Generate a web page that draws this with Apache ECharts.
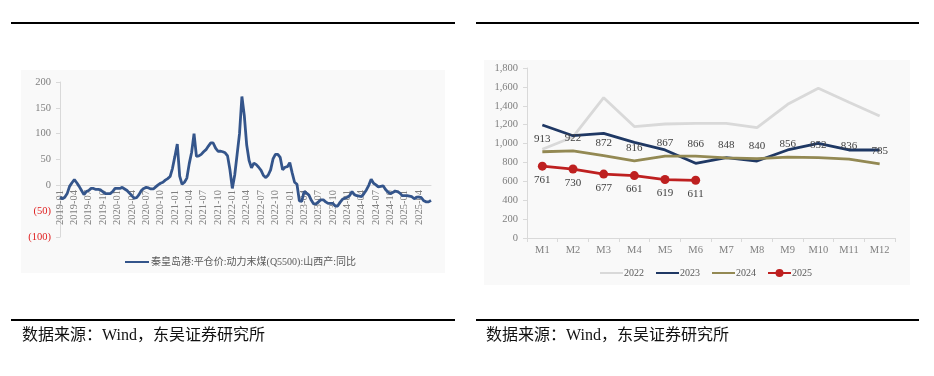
<!DOCTYPE html>
<html>
<head>
<meta charset="utf-8">
<script src="https://cdn.jsdelivr.net/npm/echarts@6/dist/echarts.min.js"></script>
<style>
  html, body { margin: 0; padding: 0; background: #fff; }
  #main { width: 934px; height: 376px; }
</style>
</head>
<body>
<div id="main"></div>
<script>
// 左图：秦皇岛港平仓价同比（半月取点，2019-01 起）
const leftName = '秦皇岛港:平仓价:动力末煤(Q5500):山西产:同比';
const leftValues = [
  -23, -26, -23, -16, -2, 5, 11, 5, -2, -10,
  -18, -12, -10, -6, -6, -8, -8, -9, -13, -16,
  -16, -16, -12, -6, -6, -6, -4, -7, -10, -15,
  -20, -25, -24, -18, -10, -6, -4, -5, -7, -7,
  -3, 1, 4, 6, 10, 13, 17, 33, 56, 80,
  18, 2, 6, 14, 42, 64, 100, 56, 57, 60,
  65, 69, 76, 82, 82, 72, 66, 66, 65, 63,
  57, 30, -6, 20, 60, 100, 172, 135, 78, 48,
  34, 43, 40, 35, 29, 19, 15, 20, 30, 51,
  60, 60, 54, 30, 35, 36, 44, 24, 6, 2,
  -30, -31, -12, -15, -19, -29, -36, -36, -32, -28,
  -28, -32, -35, -35, -35, -40, -40, -33, -27, -25,
  -23, -20, -12, -18, -20, -21, -22, -16, -9, 0,
  12, 4, 1, -3, -2, -1, -8, -13, -16, -14,
  -11, -12, -15, -20, -20, -20, -21, -22, -26, -23,
  -23, -24, -30, -32, -32, -29
];

// 右图：月度数据
const months = ['M1', 'M2', 'M3', 'M4', 'M5', 'M6', 'M7', 'M8', 'M9', 'M10', 'M11', 'M12'];
const y2022 = [940, 1070, 1486, 1180, 1207, 1214, 1214, 1168, 1415, 1585, 1437, 1292];
const y2023 = [1196, 1083, 1108, 1013, 932, 791, 850, 815, 932, 1003, 932, 932];
const y2024 = [913, 922, 872, 816, 867, 866, 848, 840, 856, 852, 836, 785];
const y2025 = [761, 730, 677, 661, 619, 611];

const sourceText = '数据来源：Wind，东吴证券研究所';

// 半月日期类目
let dates = [];
for (let i = 0; i < leftValues.length; i++) {
  let yr = 2019 + Math.floor(i / 24);
  let mo = Math.floor((i % 24) / 2) + 1;
  dates.push(yr + '-' + (mo < 10 ? '0' + mo : mo) + (i % 2 ? '-16' : '-01'));
}

const serif = '"Liberation Serif", "Noto Sans CJK SC", serif';
const gray = '#7f7f7f';
const axisGray = '#d9d9d9';
const hideDot = { opacity: 0 };

const chart = echarts.init(document.getElementById('main'));

const option = {
  backgroundColor: '#fff',
  animation: false,
  textStyle: { fontFamily: serif },
  graphic: [
    { type: 'rect', z: -1, shape: { x: 21, y: 70, width: 424, height: 203 }, style: { fill: '#f9f9f9' } },
    { type: 'rect', z: -1, shape: { x: 484, y: 60, width: 426, height: 225 }, style: { fill: '#f9f9f9' } },
    { type: 'rect', shape: { x: 11, y: 22, width: 444, height: 2 }, style: { fill: '#000' } },
    { type: 'rect', shape: { x: 476, y: 22, width: 443, height: 2 }, style: { fill: '#000' } },
    { type: 'rect', shape: { x: 11, y: 319, width: 444, height: 2 }, style: { fill: '#000' } },
    { type: 'rect', shape: { x: 476, y: 319, width: 443, height: 2 }, style: { fill: '#000' } },
    { type: 'text', left: 22, top: 328, style: { text: sourceText, fontSize: 16, fill: '#111', fontFamily: serif } },
    { type: 'text', left: 486, top: 328, style: { text: sourceText, fontSize: 16, fill: '#111', fontFamily: serif } }
  ],
  legend: [
    {
      data: [{ name: leftName, itemStyle: hideDot }],
      left: 119, top: 252,
      itemWidth: 24, itemHeight: 10, itemGap: 4,
      textStyle: { fontSize: 10, color: '#595959', fontFamily: serif, padding: [0, 0, 0, -3] }
    },
    {
      data: [
        { name: '2022', itemStyle: hideDot },
        { name: '2023', itemStyle: hideDot },
        { name: '2024', itemStyle: hideDot },
        { name: '2025' }
      ],
      left: 594, top: 263,
      itemWidth: 23, itemHeight: 10, itemGap: 11,
      textStyle: { fontSize: 10, color: '#595959', fontFamily: serif, padding: [0, 0, 0, -4] }
    }
  ],
  grid: [
    { left: 60, top: 82, width: 371, height: 155 },
    { left: 527, top: 68, width: 368, height: 170 }
  ],
  xAxis: [
    {
      type: 'category', gridIndex: 0, data: dates, boundaryGap: false,
      axisLine: { onZero: true, lineStyle: { color: axisGray } },
      axisTick: { show: false },
      axisLabel: {
        rotate: 90, fontSize: 10.5, color: gray, margin: -47,
        interval: function (idx) { return idx % 6 === 0; },
        formatter: function (v) { return v.slice(0, 7); }
      }
    },
    {
      type: 'category', gridIndex: 1, data: months, boundaryGap: true,
      axisLine: { lineStyle: { color: axisGray } },
      axisTick: { show: true, length: 4, lineStyle: { color: axisGray } },
      axisLabel: { fontSize: 10.5, color: gray, margin: 7 }
    }
  ],
  yAxis: [
    {
      type: 'value', gridIndex: 0, min: -100, max: 200, interval: 50,
      axisLine: { show: true, lineStyle: { color: axisGray } },
      axisTick: { show: true, length: 4, lineStyle: { color: axisGray } },
      splitLine: { show: false },
      axisLabel: {
        fontSize: 10.5, margin: 9,
        color: function (v) { return Number(v) < 0 ? '#e02020' : gray; },
        formatter: function (v) { return v < 0 ? '(' + (-v) + ')' : String(v); }
      }
    },
    {
      type: 'value', gridIndex: 1, min: 0, max: 1800, interval: 200,
      axisLine: { show: true, lineStyle: { color: axisGray } },
      axisTick: { show: true, length: 4, lineStyle: { color: axisGray } },
      splitLine: { show: false },
      axisLabel: {
        fontSize: 10.5, color: gray, margin: 9,
        formatter: function (v) { return v.toLocaleString('en-US'); }
      }
    }
  ],
  series: [
    {
      name: leftName, type: 'line', xAxisIndex: 0, yAxisIndex: 0,
      data: leftValues, symbol: 'none',
      lineStyle: { color: '#34558b', width: 2.8 }, itemStyle: { color: '#34558b' }
    },
    {
      name: '2022', type: 'line', xAxisIndex: 1, yAxisIndex: 1,
      data: y2022, symbol: 'none',
      lineStyle: { color: '#d9d9d9', width: 2.8 }, itemStyle: { color: '#d9d9d9' }
    },
    {
      name: '2023', type: 'line', xAxisIndex: 1, yAxisIndex: 1,
      data: y2023, symbol: 'none',
      lineStyle: { color: '#1f3864', width: 2.8 }, itemStyle: { color: '#1f3864' }
    },
    {
      name: '2024', type: 'line', xAxisIndex: 1, yAxisIndex: 1,
      data: y2024, symbol: 'circle', symbolSize: 0.1, showSymbol: true,
      lineStyle: { color: '#938953', width: 2.8 }, itemStyle: { color: '#938953' },
      label: { show: true, position: 'top', distance: 7, fontSize: 11, color: '#404040', fontFamily: serif }
    },
    {
      name: '2025', type: 'line', xAxisIndex: 1, yAxisIndex: 1,
      data: y2025, symbol: 'circle', symbolSize: 9,
      lineStyle: { color: '#be2020', width: 2.8 }, itemStyle: { color: '#be2020' },
      label: { show: true, position: 'bottom', distance: 4, fontSize: 11, color: '#404040', fontFamily: serif }
    }
  ]
};

chart.setOption(option);
</script>
</body>
</html>
